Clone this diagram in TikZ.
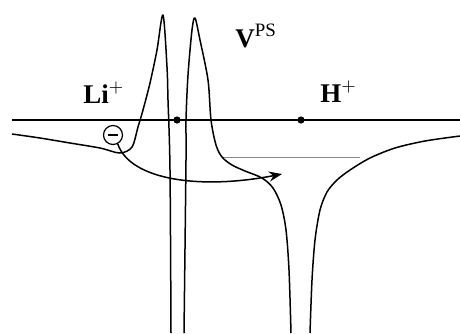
\documentclass[tikz,border=0pt]{standalone}
\usepackage{fontspec}
\setmainfont{Liberation Serif}
\usetikzlibrary{arrows.meta}
\usepackage{xcolor}
\definecolor{inkGray}{HTML}{8A8A8A}
\tikzset{
  curve/.style={line width=0.75pt, line join=round},
  level/.style={draw=inkGray, line width=0.5pt},
  dot/.style={circle, fill=black, inner sep=0pt, minimum size=3.6pt},
  charge/.style={circle, draw, line width=0.6pt, inner sep=0pt, minimum size=9.5pt},
  lbl/.style={anchor=base west, inner sep=0pt, font=\fontsize{13.5}{16}\selectfont\bfseries},
  arrow/.style={-{Stealth[length=6.5pt, width=5pt]}, line width=0.75pt},
}
\begin{document}
\begin{tikzpicture}[x=0.5pt, y=-0.5pt]
\useasboundingbox (0,0) rectangle (460,333);
\draw[curve] (12,120) -- (460,120);
\draw[level] (222,157) -- (360,157);
\draw[curve] plot[smooth, tension=0.5] coordinates {(12,134) (40,138) (70,143) (100,148) (120,153) (132,147) (138,127) (143,110) (150,83) (157,50) (163,15) (167,67) (168,100) (170,170) (171,333)};
\draw[curve] plot[smooth, tension=0.5] coordinates {(184,333) (186,160) (186,120) (188,75) (192,30) (195,18) (200,40) (208,80) (211,120) (216,145) (222,157) (232,165) (245,171) (262,178) (273,188) (281,205) (286,230) (289,270) (291,333)};
\draw[curve] plot[smooth, tension=0.5] coordinates {(310,333) (312,280) (315,240) (320,210) (327,192) (337,180) (350,170) (370,158) (395,148) (425,141) (460,136)};
\node[dot] (coreLi) at (177,120) {};
\node[dot] (coreH) at (301,120) {};
\node[charge] (electron) at (113,135) {\rule{5.3pt}{0.7pt}};
\coordinate (target) at (282,174);
\draw[arrow] (electron.-62) .. controls (130,180) and (200,190) .. (target);
\node[lbl] (labelLi) at (83,103) {Li$^{+}$};
\node[lbl] (labelH) at (320,102) {H$^{+}$};
\node[lbl] (labelV) at (235,47) {V\textsuperscript{\mdseries PS}};
\end{tikzpicture}
\end{document}
